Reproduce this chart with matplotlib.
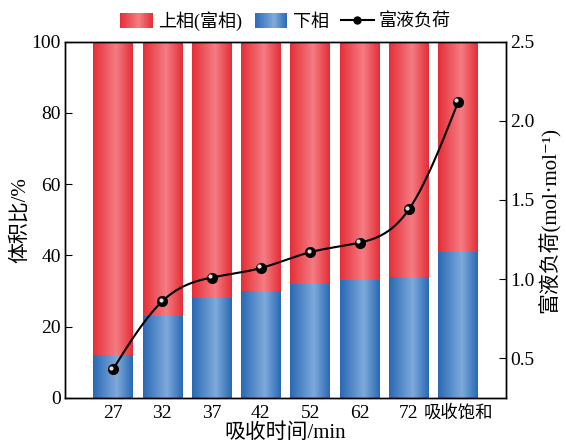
import numpy as np
import matplotlib
matplotlib.use("Agg")
from matplotlib import pyplot as plt
from matplotlib.colors import LinearSegmentedColormap
from matplotlib.legend_handler import HandlerBase
from matplotlib.patches import Rectangle
from matplotlib.lines import Line2D
from matplotlib.transforms import ScaledTranslation

plt.rcParams['font.family'] = ['Liberation Serif', 'Noto Sans CJK SC', 'DejaVu Serif']

# 数据
categories = ["27", "32", "37", "42", "52", "62", "72", "吸收饱和"]
lower = [12, 23, 28, 30, 32, 33, 34, 41]          # 下相 体积比/%
upper = [100 - v for v in lower]                   # 上相(富相)
loading = [0.43, 0.86, 1.01, 1.07, 1.17, 1.23, 1.44, 2.12]  # 富液负荷

red_cmap = LinearSegmentedColormap.from_list(
    "red_grad", [(0, "#e52e37"), (0.58, "#f57c83"), (1, "#e52e37")])
blue_cmap = LinearSegmentedColormap.from_list(
    "blue_grad", [(0, "#2a69b5"), (0.6, "#7eaadb"), (1, "#2a69b5")])


def natural_spline(xs, ys, num=300):
    # 自然三次样条, 只用于画平滑曲线
    xs = np.asarray(xs, float)
    ys = np.asarray(ys, float)
    n = len(xs)
    h = np.diff(xs)
    A = np.zeros((n, n))
    b = np.zeros(n)
    A[0, 0] = A[-1, -1] = 1
    for i in range(1, n - 1):
        A[i, i - 1] = h[i - 1]
        A[i, i] = 2 * (h[i - 1] + h[i])
        A[i, i + 1] = h[i]
        b[i] = 6 * ((ys[i + 1] - ys[i]) / h[i] - (ys[i] - ys[i - 1]) / h[i - 1])
    M = np.linalg.solve(A, b)
    xx = np.linspace(xs[0], xs[-1], num)
    idx = np.clip(np.searchsorted(xs, xx) - 1, 0, n - 2)
    x0, x1 = xs[idx], xs[idx + 1]
    hh = x1 - x0
    yy = (M[idx] * (x1 - xx) ** 3 / (6 * hh) + M[idx + 1] * (xx - x0) ** 3 / (6 * hh)
          + (ys[idx] / hh - M[idx] * hh / 6) * (x1 - xx)
          + (ys[idx + 1] / hh - M[idx + 1] * hh / 6) * (xx - x0))
    return xx, yy


class GradientHandler(HandlerBase):
    def __init__(self, cmap):
        super().__init__()
        self.cmap = cmap

    def create_artists(self, legend, orig_handle, xdescent, ydescent,
                       width, height, fontsize, trans):
        n = 40
        arts = []
        for i in range(n):
            r = Rectangle((-xdescent + width * i / n, -ydescent), width / n * 1.1, height,
                          facecolor=self.cmap((i + 0.5) / n), edgecolor='none',
                          transform=trans)
            arts.append(r)
        return arts


fig = plt.figure(figsize=(5.66, 4.48), dpi=100)
ax = fig.add_axes([0.115, 0.112, 0.779, 0.795])

x = np.arange(len(categories))
grad = np.linspace(0, 1, 100).reshape(1, -1)

bars_low = ax.bar(x, lower, width=0.8, color='none', edgecolor='none')
bars_up = ax.bar(x, upper, width=0.8, bottom=lower, color='none', edgecolor='none')
for patches, cmap in ((bars_low, blue_cmap), (bars_up, red_cmap)):
    for p in patches:
        x0, y0 = p.get_x(), p.get_y()
        im = ax.imshow(grad, extent=[x0, x0 + p.get_width(), y0, y0 + p.get_height()],
                       aspect='auto', cmap=cmap, zorder=1, interpolation='bilinear')
        im.set_clip_path(p)

ax.set_xlim(-0.97, 7.97)
ax.set_ylim(0, 100)
ax.set_yticks(range(0, 101, 20))
ax.set_xticks(x)
ax.set_xticklabels(categories)
ax.tick_params(axis='y', direction='in', length=5, labelsize=14, right=False, pad=3)
ax.tick_params(axis='x', length=0, labelsize=14, pad=5)
ax.get_xticklabels()[-1].set_fontsize(12.5)
ax.set_xlabel("吸收时间/min", fontsize=15, labelpad=1)
ax.set_ylabel("体积比/%", fontsize=15, labelpad=1)

ax2 = ax.twinx()
ax2.set_ylim(0.25, 2.5)
ax2.set_yticks([0.5, 1.0, 1.5, 2.0, 2.5])
ax2.tick_params(axis='y', direction='in', length=5, labelsize=14, pad=3)
ax2.set_ylabel("富液负荷(mol·mol⁻¹)", fontsize=15, labelpad=3)

xs, ys = natural_spline(x, loading)
ax2.plot(xs, ys, color='black', lw=1.5, zorder=3)
ax2.plot(x, loading, 'o', color='black', markersize=7, zorder=4)
hl = ax2.transData + ScaledTranslation(-1.2 / 72, 1.2 / 72, fig.dpi_scale_trans)
ax2.plot(x, loading, 'o', color='#dddddd', markersize=2, zorder=5, transform=hl)

for a in (ax, ax2):
    for s in a.spines.values():
        s.set_linewidth(1.0)

red_proxy = Rectangle((0, 0), 1, 1)
blue_proxy = Rectangle((0, 0), 1, 1)
line_proxy = Line2D([], [], color='black', lw=1.5, marker='o', markersize=5)
ax2.legend([red_proxy, blue_proxy, line_proxy], ["上相(富相)", "下相", "富液负荷"],
           handler_map={red_proxy: GradientHandler(red_cmap),
                        blue_proxy: GradientHandler(blue_cmap)},
           loc='lower center', bbox_to_anchor=(0.5, 1.0), ncol=3, frameon=False,
           fontsize=13, handlelength=1.8, handleheight=0.9, handletextpad=0.3,
           columnspacing=0.7, borderaxespad=0.2)

plt.savefig("out.png", dpi=100)
